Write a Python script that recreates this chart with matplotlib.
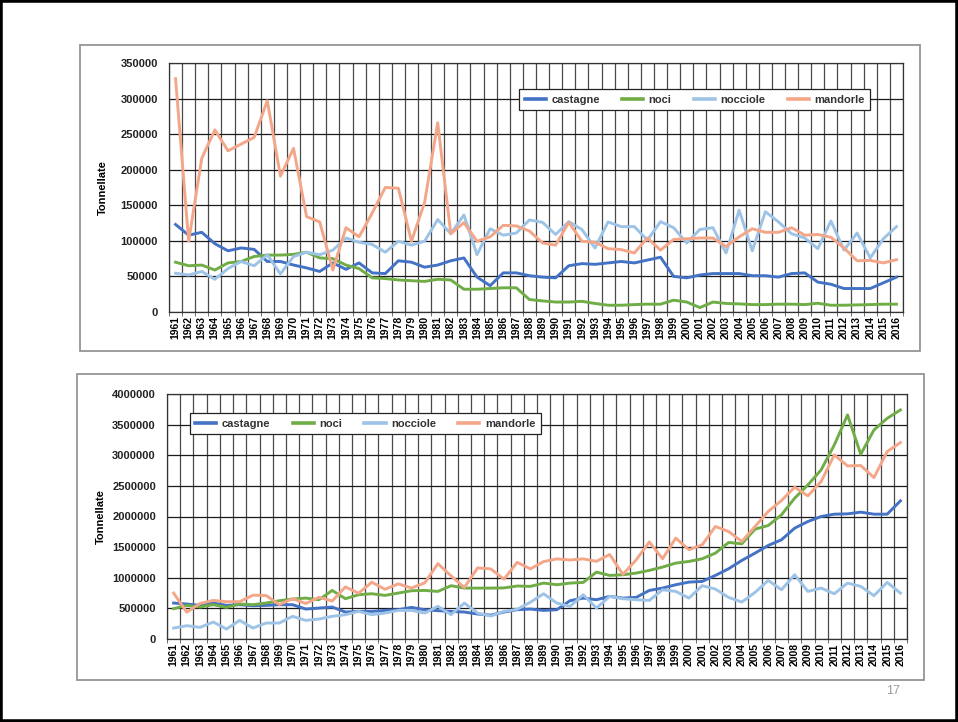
import matplotlib.pyplot as plt
from matplotlib.patches import Rectangle
from matplotlib.ticker import StrMethodFormatter

plt.rcParams['font.family'] = ['Liberation Sans Narrow', 'Liberation Sans', 'DejaVu Sans']
plt.rcParams['font.weight'] = 'bold'

anni = list(range(1961, 2017))
nomi = ['castagne', 'noci', 'nocciole', 'mandorle']
colori = ['#4472C4', '#70AD47', '#9DC3E6', '#F4A689']

# primo grafico (tonnellate)
castagne1 = [123000, 108000, 112000, 96000, 86000, 90000, 88000, 71000, 71000, 66000,
             62000, 57000, 69000, 60000, 69000, 55000, 54000, 72000, 70000, 63000,
             66000, 72000, 76000, 49000, 37000, 55000, 55000, 51000, 49000, 48000,
             65000, 68000, 67000, 69000, 71000, 69000, 73000, 77000, 50000, 48000,
             52000, 54000, 54000, 54000, 51000, 51000, 49000, 54000, 55000, 42000,
             39000, 33000, 33000, 33000, 41000, 49000]
noci1 = [70000, 65000, 66000, 59000, 69000, 71000, 78000, 80000, 80000, 81000,
         84000, 76000, 75000, 66000, 61000, 48000, 47000, 45000, 44000, 43000,
         46000, 45000, 32000, 32000, 33000, 34000, 34000, 17500, 15600, 14000,
         14000, 15000, 12000, 9500, 9500, 10400, 11000, 11000, 16600, 14000,
         6200, 14000, 12000, 11400, 10400, 10400, 11000, 11000, 10400, 12300,
         9500, 9500, 10000, 10400, 11000, 11000]
nocciole1 = [54500, 52000, 57000, 46000, 61000, 71000, 65000, 80500, 53500, 78000,
             84000, 80500, 87000, 104000, 98000, 95000, 84000, 99500, 94000, 99500,
             130000, 110000, 136500, 80600, 117000, 108000, 111000, 129400, 126000, 109000,
             127000, 116000, 90000, 126600, 120000, 120000, 101000, 127000, 118500, 97000,
             116000, 118500, 83000, 143000, 86000, 141000, 126600, 110000, 104000, 89000,
             128000, 87000, 111000, 76000, 103000, 120000]
mandorle1 = [328000, 99500, 216000, 256000, 226600, 236000, 245500, 297000, 191000, 230000,
             134000, 126600, 59000, 118500, 105700, 139000, 175000, 174000, 99500, 154000,
             266000, 110000, 125600, 99500, 105700, 121800, 121000, 113800, 97000, 94000,
             126000, 99500, 98000, 89000, 87700, 83000, 104000, 87000, 102000, 103000,
             104000, 104000, 92000, 105700, 117000, 112000, 112000, 118500, 108000, 109000,
             105000, 90000, 72000, 72500, 69000, 73500]

# secondo grafico (tonnellate)
castagne2 = [587000, 571000, 549000, 587000, 549000, 560000, 543000, 549000, 560000, 560000,
             489000, 505000, 522000, 440000, 451000, 451000, 467000, 478000, 516000, 478000,
             462000, 451000, 440000, 408000, 390000, 440000, 478000, 489000, 467000, 478000,
             625000, 668000, 641000, 696000, 668000, 679000, 793000, 831000, 886000, 929000,
             940000, 1038000, 1147000, 1283000, 1402000, 1527000, 1620000, 1810000, 1918000, 2000000,
             2038000, 2043000, 2071000, 2038000, 2038000, 2255000]
noci2 = [495000, 549000, 522000, 560000, 516000, 571000, 560000, 587000, 625000, 652000,
         668000, 641000, 793000, 658000, 723000, 739000, 712000, 750000, 788000, 793000,
         777000, 870000, 831000, 831000, 831000, 834000, 865000, 859000, 913000, 886000,
         913000, 924000, 1092000, 1038000, 1049000, 1076000, 1120000, 1174000, 1239000, 1266000,
         1310000, 1402000, 1576000, 1554000, 1794000, 1853000, 2027000, 2299000, 2516000, 2761000,
         3169000, 3658000, 3016000, 3413000, 3603000, 3739000]
nocciole2 = [179000, 217000, 190000, 277000, 163000, 304000, 179000, 261000, 261000, 370000,
             304000, 326000, 370000, 397000, 451000, 397000, 424000, 467000, 467000, 424000,
             533000, 397000, 587000, 424000, 375000, 451000, 485000, 600000, 739000, 587000,
             533000, 723000, 505000, 696000, 658000, 641000, 630000, 804000, 777000, 668000,
             870000, 815000, 679000, 603000, 761000, 957000, 804000, 1049000, 777000, 831000,
             739000, 913000, 859000, 707000, 924000, 750000]
mandorle2 = [750000, 437000, 580000, 630000, 609000, 609000, 715000, 710000, 562000, 658000,
             580000, 680000, 620000, 850000, 748000, 927000, 812000, 900000, 832000, 915000,
             1230000, 1030000, 840000, 1160000, 1145000, 976000, 1252000, 1145000, 1264000, 1308000,
             1290000, 1308000, 1268000, 1380000, 1055000, 1290000, 1585000, 1310000, 1647000, 1457000,
             1538000, 1837000, 1755000, 1592000, 1837000, 2082000, 2261000, 2478000, 2337000, 2571000,
             3005000, 2826000, 2832000, 2636000, 3060000, 3207000]

W, H = 958, 722


def fig_rect(x0, y0, x1, y1):
    # pixel box (from top-left) -> figure fraction [left, bottom, width, height]
    return [x0 / W, 1 - y1 / H, (x1 - x0) / W, (y1 - y0) / H]


def disegna(ax, serie, ymax, passo, leg_xy, lab_x):
    x = list(range(len(anni)))
    for valori, nome, col in zip(serie, nomi, colori):
        ax.plot(x, valori, color=col, lw=2.1, label=nome, zorder=3)
    ax.set_xlim(-0.5, len(anni) - 0.5)
    ax.set_ylim(0, ymax)
    ax.set_yticks(range(0, ymax + 1, passo))
    ax.yaxis.set_major_formatter(StrMethodFormatter('{x:.0f}'))
    ax.set_xticks(x)
    ax.set_xticklabels([str(a) for a in anni], rotation=90, fontsize=7.5, fontweight='bold')
    ax.set_xticks([i - 0.5 for i in range(len(anni) + 1)], minor=True)
    ax.tick_params(axis='x', which='major', length=0, pad=3)
    ax.tick_params(axis='x', which='minor', length=3, color='#555555')
    ax.tick_params(axis='y', length=0, pad=8, labelsize=8, labelcolor='#222222')
    for t in ax.get_yticklabels():
        t.set_fontweight('bold')
    ax.grid(True, axis='y', which='major', color='#1a1a1a', lw=0.9)
    ax.grid(True, axis='x', which='minor', color='#4a4a4a', lw=0.9)
    for s in ax.spines.values():
        s.set_color('#333333')
        s.set_linewidth(0.9)
    ax.set_ylabel('Tonnellate', fontsize=8, fontweight='bold')
    ax.yaxis.set_label_coords(lab_x, 0.5)
    leg = ax.legend(loc='center', bbox_to_anchor=leg_xy, ncol=4, fontsize=8,
                    frameon=True, fancybox=False, handlelength=1.9, handletextpad=0.5,
                    columnspacing=2.0, borderpad=0.5, framealpha=1)
    leg.get_frame().set_edgecolor('#222222')
    leg.get_frame().set_linewidth(0.9)
    for t in leg.get_texts():
        t.set_fontweight('bold')
        t.set_color('#333333')
    for l in leg.get_lines():
        l.set_linewidth(2.6)


fig = plt.figure(figsize=(W / 100, H / 100), dpi=100)
fig.patch.set_facecolor('white')

# cornici
fig.patches.append(Rectangle((0, 0), 1, 1, transform=fig.transFigure,
                             fill=False, ec='black', lw=4))
for box in [(80, 45, 920, 351), (77, 374, 924, 680)]:
    l, b, w, h = fig_rect(*box)
    fig.patches.append(Rectangle((l, b), w, h, transform=fig.transFigure,
                                 fill=False, ec='#8c8c8c', lw=1.2))

ax1 = fig.add_axes(fig_rect(169, 63, 903, 312))
disegna(ax1, [castagne1, noci1, nocciole1, mandorle1], 350000, 50000, (0.716, 0.853), -0.083)

ax2 = fig.add_axes(fig_rect(167, 394, 907, 639))
disegna(ax2, [castagne2, noci2, nocciole2, mandorle2], 4000000, 500000, (0.268, 0.878), -0.082)

fig.text(893 / W, 1 - 691 / H, '17', fontsize=9, color='#9a9a9a', ha='center', va='center',
         fontweight='normal')

fig.savefig('out.png', dpi=100)
